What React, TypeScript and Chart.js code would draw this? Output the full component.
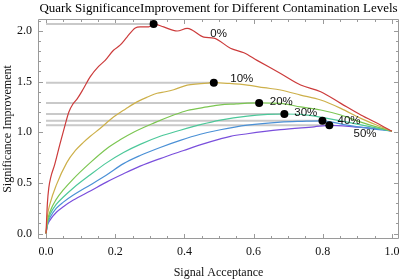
import { useEffect, useRef } from "react";
import { Chart, registerables } from "chart.js";
Chart.register(...registerables);

const titleText = "Quark SignificanceImprovement for Different Contamination Levels";
const xTitle = "Signal Acceptance";
const yTitle = "Significance Improvement";

const levels = ["0%", "10%", "20%", "30%", "40%", "50%"];
const colors = ["#cc3b3b", "#cdb04a", "#7cc652", "#4cc89a", "#4a90d6", "#7a4fdc"];

const acc0 = [0, 0.004, 0.008, 0.014, 0.025, 0.04, 0.055, 0.066, 0.078, 0.09, 0.108, 0.128, 0.152, 0.171, 0.195, 0.214, 0.234, 0.258, 0.272, 0.297, 0.311, 0.34, 0.379, 0.408, 0.422, 0.456, 0.485, 0.533, 0.572, 0.61, 0.678, 0.736, 0.794, 0.852, 0.91, 0.968, 1.0];
const imp0 = [0, 0.3, 0.45, 0.56, 0.68, 0.88, 1.07, 1.2, 1.28, 1.33, 1.43, 1.55, 1.65, 1.71, 1.81, 1.86, 1.94, 2.03, 2.04, 2.04, 2.07, 2.04, 2.0, 2.025, 2.01, 1.94, 1.93, 1.83, 1.785, 1.71, 1.58, 1.466, 1.4, 1.285, 1.17, 1.07, 1.01];

const acc10 = [0, 0.004, 0.012, 0.03, 0.06, 0.085, 0.108, 0.128, 0.157, 0.195, 0.23, 0.263, 0.295, 0.321, 0.345, 0.369, 0.408, 0.44, 0.466, 0.485, 0.53, 0.582, 0.63, 0.678, 0.736, 0.794, 0.852, 0.91, 0.968, 1.0];
const imp10 = [0, 0.17, 0.3, 0.48, 0.7, 0.82, 0.9, 0.96, 1.04, 1.15, 1.23, 1.3, 1.35, 1.385, 1.4, 1.42, 1.465, 1.478, 1.485, 1.49, 1.482, 1.466, 1.44, 1.417, 1.367, 1.318, 1.236, 1.137, 1.054, 1.01];

const acc20 = [0, 0.004, 0.012, 0.03, 0.05, 0.079, 0.128, 0.176, 0.214, 0.253, 0.311, 0.369, 0.408, 0.466, 0.504, 0.55, 0.582, 0.616, 0.678, 0.736, 0.794, 0.852, 0.91, 0.968, 1.0];
const imp20 = [0, 0.12, 0.22, 0.34, 0.43, 0.54, 0.7, 0.84, 0.925, 1.0, 1.09, 1.17, 1.215, 1.25, 1.27, 1.28, 1.288, 1.29, 1.285, 1.25, 1.22, 1.17, 1.1, 1.04, 1.01];

const acc30 = [0, 0.004, 0.012, 0.03, 0.05, 0.079, 0.128, 0.176, 0.224, 0.272, 0.33, 0.388, 0.446, 0.504, 0.582, 0.64, 0.689, 0.755, 0.813, 0.871, 0.929, 1.0];
const imp30 = [0, 0.1, 0.19, 0.29, 0.36, 0.45, 0.58, 0.7, 0.8, 0.88, 0.96, 1.02, 1.075, 1.12, 1.16, 1.176, 1.18, 1.17, 1.137, 1.1, 1.06, 1.01];

const acc40 = [0, 0.004, 0.012, 0.03, 0.05, 0.079, 0.128, 0.176, 0.224, 0.272, 0.33, 0.388, 0.446, 0.504, 0.582, 0.678, 0.74, 0.799, 0.871, 0.929, 1.0];
const imp40 = [0, 0.09, 0.16, 0.25, 0.31, 0.38, 0.48, 0.58, 0.69, 0.77, 0.85, 0.92, 0.98, 1.025, 1.07, 1.1, 1.108, 1.113, 1.07, 1.04, 1.01];

const acc50 = [0, 0.004, 0.012, 0.03, 0.05, 0.079, 0.128, 0.176, 0.224, 0.272, 0.33, 0.398, 0.45, 0.504, 0.533, 0.582, 0.678, 0.775, 0.819, 0.89, 0.968, 1.0];
const imp50 = [0, 0.08, 0.135, 0.21, 0.265, 0.33, 0.42, 0.51, 0.59, 0.665, 0.74, 0.82, 0.88, 0.935, 0.96, 0.985, 1.025, 1.054, 1.068, 1.054, 1.03, 1.01];

const peakX = [0.311, 0.485, 0.616, 0.689, 0.799, 0.819];
const peakY = [2.07, 1.49, 1.29, 1.18, 1.113, 1.068];

const labelX = [0.499, 0.566, 0.68, 0.751, 0.876, 0.922];
const labelY = [1.97, 1.525, 1.301, 1.193, 1.114, 0.989];

const xTicks = [0, 0.2, 0.4, 0.6, 0.8, 1.0];
const yTicks = [0, 0.5, 1.0, 1.5, 2.0];
const xMinor = [0, 0.05, 0.1, 0.15, 0.2, 0.25, 0.3, 0.35, 0.4, 0.45, 0.5, 0.55, 0.6, 0.65, 0.7, 0.75, 0.8, 0.85, 0.9, 0.95, 1.0];
const yMinor = [0, 0.1, 0.2, 0.3, 0.4, 0.5, 0.6, 0.7, 0.8, 0.9, 1.0, 1.1, 1.2, 1.3, 1.4, 1.5, 1.6, 1.7, 1.8, 1.9, 2.0, 2.1];

const accs = [acc0, acc10, acc20, acc30, acc40, acc50];
const imps = [imp0, imp10, imp20, imp30, imp40, imp50];

const framePlugin = {
  id: "frameTicks",
  beforeDatasetsDraw(chart: any) {
    const { ctx, chartArea } = chart;
    const xs = chart.scales.x;
    const ys = chart.scales.y;
    const { left, right, top, bottom } = chartArea;
    ctx.save();
    ctx.strokeStyle = "#9a9a9a";
    ctx.lineWidth = 1;
    ctx.beginPath();
    ctx.rect(left + 0.5, top + 0.5, right - left - 1, bottom - top - 1);
    ctx.stroke();
    ctx.beginPath();
    xMinor.forEach((v) => {
      const major = xTicks.some((t) => Math.abs(t - v) < 1e-6);
      const len = major ? 5 : 3;
      const px = Math.round(xs.getPixelForValue(v)) + 0.5;
      ctx.moveTo(px, bottom);
      ctx.lineTo(px, bottom - len);
      ctx.moveTo(px, top);
      ctx.lineTo(px, top + len);
    });
    yMinor.forEach((v) => {
      const major = yTicks.some((t) => Math.abs(t - v) < 1e-6);
      const len = major ? 5 : 3;
      const py = Math.round(ys.getPixelForValue(v)) + 0.5;
      ctx.moveTo(left, py);
      ctx.lineTo(left + len, py);
      ctx.moveTo(right, py);
      ctx.lineTo(right - len, py);
    });
    ctx.stroke();
    ctx.restore();
  },
  afterDatasetsDraw(chart: any) {
    const { ctx } = chart;
    const xs = chart.scales.x;
    const ys = chart.scales.y;
    ctx.save();
    ctx.fillStyle = "#111";
    ctx.font = "11.5px 'Liberation Sans', Arial, sans-serif";
    ctx.textAlign = "center";
    ctx.textBaseline = "middle";
    levels.forEach((t, i) => {
      ctx.fillText(t, xs.getPixelForValue(labelX[i]), ys.getPixelForValue(labelY[i]));
    });
    ctx.restore();
  },
};

export default function App() {
  const ref = useRef<HTMLCanvasElement>(null);
  useEffect(() => {
    document.body.style.margin = "0";
    const curveSets = levels.map((lv, i) => ({
      label: lv,
      data: accs[i].map((x, j) => ({ x, y: imps[i][j] })),
      borderColor: colors[i],
      borderWidth: 1.2,
      pointRadius: 0,
      showLine: true,
      fill: false,
      cubicInterpolationMode: "monotone" as const,
    }));
    const graySets = levels.map((lv, i) => ({
      label: "max " + lv,
      data: [
        { x: 0, y: peakY[i] },
        { x: peakX[i], y: peakY[i] },
      ],
      borderColor: "#c9c9c9",
      borderWidth: 2,
      pointRadius: 0,
      showLine: true,
      fill: false,
    }));
    const dotSet = {
      label: "maxima",
      data: peakX.map((x, i) => ({ x, y: peakY[i] })),
      backgroundColor: "#000",
      borderColor: "#000",
      pointRadius: 4,
      borderWidth: 0,
      showLine: false,
    };
    const serif = "'Liberation Serif', 'Times New Roman', serif";
    const chart = new Chart(ref.current!, {
      type: "scatter",
      data: { datasets: [dotSet, ...curveSets, ...graySets] as any },
      options: {
        animation: false,
        responsive: false,
        layout: { padding: { left: 0, right: 8, top: 0, bottom: 0 } },
        plugins: {
          legend: { display: false },
          tooltip: { enabled: false },
          title: {
            display: true,
            text: titleText,
            fullSize: false,
            color: "#000",
            font: { family: serif, size: 13, weight: "normal", lineHeight: "15px" },
            padding: { top: 1, bottom: 3 },
          } as any,
        },
        scales: {
          x: {
            type: "linear",
            min: -0.0232,
            max: 1.0203,
            grid: { display: false, drawTicks: false },
            border: { display: false },
            afterBuildTicks: (s: any) => {
              s.ticks = xTicks.map((v) => ({ value: v }));
            },
            afterFit: (s: any) => {
              s.height = 41;
            },
            ticks: {
              color: "#111",
              font: { family: serif, size: 12 },
              padding: 6,
              maxRotation: 0,
              callback: (v: any) => Number(v).toFixed(1),
            },
            title: {
              display: true,
              text: xTitle,
              color: "#111",
              font: { family: serif, size: 12 },
              padding: { top: 0, bottom: 0 },
            },
          },
          y: {
            type: "linear",
            min: -0.0543,
            max: 2.1185,
            grid: { display: false, drawTicks: false },
            border: { display: false },
            afterBuildTicks: (s: any) => {
              s.ticks = yTicks.map((v) => ({ value: v }));
            },
            afterFit: (s: any) => {
              s.width = 38;
            },
            ticks: {
              color: "#111",
              font: { family: serif, size: 12 },
              padding: 6,
              callback: (v: any) => Number(v).toFixed(1),
            },
            title: {
              display: true,
              text: yTitle,
              color: "#111",
              font: { family: serif, size: 12 },
              padding: { top: 1, bottom: 0 },
            },
          },
        },
      },
      plugins: [framePlugin],
    });
    return () => chart.destroy();
  }, []);
  return (
    <div style={{ width: 407, height: 280 }}>
      <canvas ref={ref} width={407} height={280} style={{ display: "block" }} />
    </div>
  );
}
